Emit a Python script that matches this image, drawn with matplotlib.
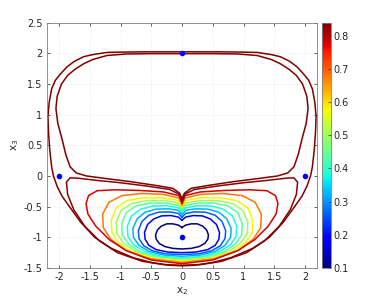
import matplotlib
matplotlib.use('Agg')
import matplotlib.pyplot as plt
from matplotlib import cm, colors

# equilibrium points
pts_x = [0, -2, 2, 0]
pts_y = [2, 0, 0, -1]

# contour levels (right half of each curve; the chart is symmetric in x2)
levels = [0.10, 0.18, 0.26, 0.32, 0.38, 0.44, 0.50, 0.58, 0.68, 0.78, 0.83, 0.839, 0.839]

half_x = [
    [0, 0.06, 0.15, 0.25, 0.34, 0.40, 0.43, 0.42, 0.37, 0.28, 0.15, 0],
    [0, 0.06, 0.18, 0.33, 0.46, 0.56, 0.61, 0.60, 0.54, 0.42, 0.23, 0],
    [0, 0.06, 0.20, 0.38, 0.54, 0.65, 0.71, 0.70, 0.62, 0.48, 0.27, 0],
    [0, 0.06, 0.22, 0.42, 0.60, 0.73, 0.80, 0.79, 0.70, 0.54, 0.30, 0],
    [0, 0.06, 0.24, 0.47, 0.67, 0.82, 0.89, 0.88, 0.79, 0.61, 0.34, 0],
    [0, 0.06, 0.26, 0.52, 0.75, 0.91, 0.98, 0.97, 0.87, 0.68, 0.38, 0],
    [0, 0.06, 0.28, 0.57, 0.82, 0.99, 1.07, 1.06, 0.95, 0.74, 0.42, 0],
    [0, 0.06, 0.30, 0.62, 0.89, 1.07, 1.15, 1.14, 1.03, 0.81, 0.46, 0],
    [0, 0.05, 0.30, 0.66, 0.98, 1.19, 1.29, 1.28, 1.16, 0.92, 0.52, 0],
    [0, 0.05, 0.30, 0.70, 1.10, 1.38, 1.52, 1.56, 1.53, 1.40, 1.18, 0.90, 0.50, 0],
    [0, 0.04, 0.20, 0.60, 1.00, 1.40, 1.70, 1.82, 1.88, 1.86, 1.76, 1.58, 1.34, 1.05, 0.65, 0.30, 0],
    [0, 0.04, 0.15, 0.45, 0.85, 1.25, 1.55, 1.72, 1.82, 1.89, 1.95, 2.02, 2.05, 2.03, 1.96,
     1.86, 1.74, 1.60, 1.45, 1.22, 0.90, 0.50, 0],
    [0, 0.60, 1.00, 1.22, 1.45, 1.60, 1.75, 1.87, 1.98, 2.06, 2.12, 2.16, 2.18, 2.17, 2.15,
     2.12, 2.09, 2.03, 1.95, 1.83, 1.65, 1.42, 1.15, 0.80, 0.50, 0.20, 0],
]
half_y = [
    [-0.84, -0.80, -0.78, -0.78, -0.82, -0.88, -0.96, -1.03, -1.10, -1.15, -1.18, -1.19],
    [-0.72, -0.67, -0.645, -0.65, -0.70, -0.79, -0.92, -1.03, -1.13, -1.20, -1.24, -1.25],
    [-0.67, -0.61, -0.585, -0.59, -0.64, -0.74, -0.89, -1.02, -1.14, -1.22, -1.27, -1.28],
    [-0.63, -0.56, -0.535, -0.54, -0.59, -0.70, -0.86, -1.00, -1.13, -1.23, -1.29, -1.31],
    [-0.59, -0.52, -0.485, -0.49, -0.54, -0.65, -0.82, -0.98, -1.12, -1.23, -1.31, -1.33],
    [-0.56, -0.48, -0.44, -0.44, -0.49, -0.60, -0.78, -0.96, -1.11, -1.24, -1.32, -1.35],
    [-0.53, -0.44, -0.40, -0.40, -0.45, -0.56, -0.75, -0.94, -1.10, -1.24, -1.34, -1.37],
    [-0.50, -0.40, -0.355, -0.355, -0.40, -0.52, -0.72, -0.92, -1.09, -1.24, -1.35, -1.39],
    [-0.47, -0.36, -0.30, -0.285, -0.32, -0.43, -0.62, -0.84, -1.03, -1.21, -1.35, -1.41],
    [-0.44, -0.32, -0.26, -0.235, -0.225, -0.24, -0.32, -0.45, -0.62, -0.82, -1.04, -1.22, -1.37, -1.43],
    [-0.41, -0.30, -0.22, -0.16, -0.11, -0.07, -0.035, -0.03, -0.10, -0.30, -0.55, -0.82, -1.06,
     -1.25, -1.39, -1.445, -1.455],
    [-0.37, -0.28, -0.20, -0.15, -0.09, -0.04, 0.00, 0.05, 0.15, 0.35, 0.60, 0.86, 1.10, 1.30, 1.50,
     1.64, 1.74, 1.83, 1.90, 1.965, 1.99, 1.995, 1.995],
    [2.025, 2.025, 2.02, 2.015, 1.98, 1.945, 1.87, 1.78, 1.66, 1.56, 1.42, 1.20, 0.97, 0.70, 0.42,
     0.15, 0.00, -0.17, -0.33, -0.50, -0.75, -1.00, -1.18, -1.33, -1.41, -1.455, -1.465],
]

cmin, cmax = 0.1, 0.839
cmap = matplotlib.colormaps['jet']
norm = colors.Normalize(vmin=cmin, vmax=cmax)

fig = plt.figure(figsize=(3.74, 3.02), dpi=100)
ax = fig.add_axes([0.1249, 0.1126, 0.7235, 0.8123])
cax = fig.add_axes([0.860, 0.1126, 0.0249, 0.8123])

for lev, hx, hy in zip(levels, half_x, half_y):
    xs = hx + [-v for v in reversed(hx[:-1])]
    ys = hy + list(reversed(hy[:-1]))
    ax.plot(xs, ys, color=cmap(norm(lev)), lw=1.1)

ax.plot(pts_x, pts_y, 'o', color='#0000ff', ms=3, zorder=5)

ax.set_xlim(-2.2, 2.2)
ax.set_ylim(-1.5, 2.5)
ax.set_xticks([-2, -1.5, -1, -0.5, 0, 0.5, 1, 1.5, 2])
ax.set_xticklabels(['-2', '-1.5', '-1', '-0.5', '0', '0.5', '1', '1.5', '2'])
ax.set_yticks([-1.5, -1, -0.5, 0, 0.5, 1, 1.5, 2, 2.5])
ax.set_yticklabels(['-1.5', '-1', '-0.5', '0', '0.5', '1', '1.5', '2', '2.5'])
ax.grid(True, color='#e4e4e4', linestyle=':', lw=0.6)
ax.set_axisbelow(True)
ax.tick_params(direction='in', length=2.5, width=0.5, labelsize=7, colors='#262626',
               top=True, right=True, pad=3)
for s in ax.spines.values():
    s.set_color('#808080')
    s.set_linewidth(0.6)
ax.set_xlabel('x$_2$', fontsize=7.5, color='#262626', labelpad=2)
ax.set_ylabel('x$_3$', fontsize=7.5, color='#262626', labelpad=2)

sm = cm.ScalarMappable(norm=norm, cmap=cmap)
cb = fig.colorbar(sm, cax=cax)
cb.set_ticks([0.1, 0.2, 0.3, 0.4, 0.5, 0.6, 0.7, 0.8])
cb.set_ticklabels(['0.1', '0.2', '0.3', '0.4', '0.5', '0.6', '0.7', '0.8'])
cb.ax.tick_params(direction='in', length=2, width=0.5, labelsize=7, colors='#262626', pad=2)
cb.outline.set_edgecolor('#808080')
cb.outline.set_linewidth(0.6)

fig.savefig('out.png', dpi=100)
